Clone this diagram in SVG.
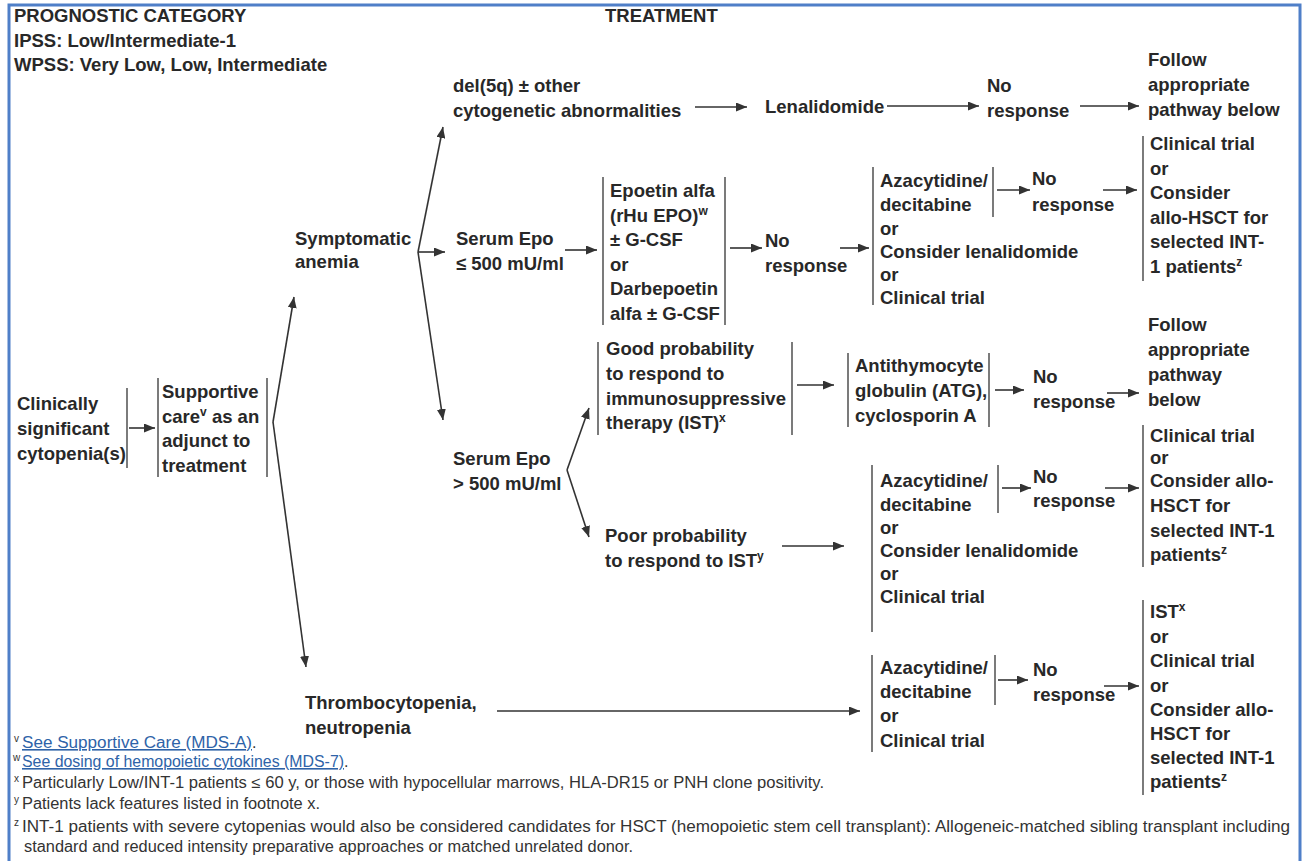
<svg xmlns="http://www.w3.org/2000/svg" width="1308" height="861" viewBox="0 0 1308 861">
<style>
.t{font-family:"Liberation Sans",Arial,sans-serif;font-weight:bold;font-size:18.5px;fill:#282828}
.s{font-size:12px}
.fn{font-family:"Liberation Sans Narrow","Liberation Sans",Arial,sans-serif;font-size:16px;fill:#333}
.fs{font-family:"Liberation Sans",Arial,sans-serif;font-size:10px;fill:#333}
.lk{fill:#2e63a8;text-decoration:underline}
.bar{stroke:#444;stroke-width:1.4;fill:none}
.c{stroke:#333;stroke-width:1.6;fill:none;marker-end:url(#ah)}
</style>
<defs>
<marker id="ah" markerUnits="userSpaceOnUse" markerWidth="11" markerHeight="9" refX="11" refY="4.5" orient="auto">
<path d="M0,0 L11,4.5 L0,9 z" fill="#333"/>
</marker>
</defs>
<rect x="0" y="0" width="1308" height="861" fill="#fff"/>
<rect x="9" y="5" width="1291" height="880" fill="none" stroke="#4f7fc8" stroke-width="3"/>

<g id="header">
<text class="t" x="14" y="22">PROGNOSTIC CATEGORY</text>
<text class="t" x="14" y="47">IPSS: Low/Intermediate-1</text>
<text class="t" x="14" y="71">WPSS: Very Low, Low, Intermediate</text>
<text class="t" x="605" y="22">TREATMENT</text>
</g>

<g id="connectors">
<path class="c" d="M129,428 L155,428"/>
<path class="c" d="M273,422 L294,297"/>
<path class="c" d="M273,422 L306,667"/>
<path class="c" d="M418,252 L443,127"/>
<path class="c" d="M418,252 L445,252"/>
<path class="c" d="M418,252 L443,420"/>
<path class="c" d="M695,107 L747,107"/>
<path class="c" d="M887,106 L979,106"/>
<path class="c" d="M1080,106 L1139,106"/>
<path class="c" d="M565,250 L597,250"/>
<path class="c" d="M730,248 L762,248"/>
<path class="c" d="M840,248 L869,248"/>
<path class="c" d="M997,190 L1030,190"/>
<path class="c" d="M1103,190 L1137,190"/>
<path class="c" d="M567,470 L589,408"/>
<path class="c" d="M567,470 L589,537"/>
<path class="c" d="M797,385 L834,385"/>
<path class="c" d="M995,390 L1024,390"/>
<path class="c" d="M1107,393 L1139,393"/>
<path class="c" d="M782,546 L844,546"/>
<path class="c" d="M1002,488 L1031,488"/>
<path class="c" d="M1105,488 L1139,488"/>
<path class="c" d="M497,711 L860,711"/>
<path class="c" d="M998,680 L1028,680"/>
<path class="c" d="M1104,686 L1139,686"/>
</g>

<g id="cytopenia">
<text class="t" x="17" y="410">Clinically</text>
<text class="t" x="17" y="435">significant</text>
<text class="t" x="17" y="460">cytopenia(s)</text>
<path class="bar" d="M127,388 V468"/>
</g>

<g id="supportive">
<path class="bar" d="M158,378 V477 M267,378 V477"/>
<text class="t" x="162" y="398">Supportive</text>
<text class="t" x="162" y="422.5">care<tspan class="s" dy="-7">v</tspan><tspan dy="7"> as an</tspan></text>
<text class="t" x="162" y="447">adjunct to</text>
<text class="t" x="162" y="471.5">treatment</text>
</g>

<g id="symptomatic">
<text class="t" x="295" y="245">Symptomatic</text>
<text class="t" x="295" y="268">anemia</text>
</g>

<g id="del5q">
<text class="t" x="453" y="92">del(5q) ± other</text>
<text class="t" x="453" y="117">cytogenetic abnormalities</text>
</g>

<g id="lenalidomide">
<text class="t" x="765" y="113">Lenalidomide</text>
</g>

<g id="noresp1">
<text class="t" x="987" y="92">No</text>
<text class="t" x="987" y="117">response</text>
</g>

<g id="follow1">
<text class="t" x="1148" y="66">Follow</text>
<text class="t" x="1148" y="91">appropriate</text>
<text class="t" x="1148" y="116">pathway below</text>
</g>

<g id="epo-low">
<text class="t" x="456" y="245">Serum Epo</text>
<text class="t" x="456" y="270">≤ 500 mU/ml</text>
</g>

<g id="epoetin">
<path class="bar" d="M603,177 V325 M725,177 V325"/>
<text class="t" x="610" y="197">Epoetin alfa</text>
<text class="t" x="610" y="221.5">(rHu EPO)<tspan class="s" dy="-7">w</tspan></text>
<text class="t" x="610" y="246">± G-CSF</text>
<text class="t" x="610" y="270.5">or</text>
<text class="t" x="610" y="295">Darbepoetin</text>
<text class="t" x="610" y="319.5">alfa ± G-CSF</text>
</g>

<g id="noresp2">
<text class="t" x="765" y="247">No</text>
<text class="t" x="765" y="272">response</text>
</g>

<g id="aza1">
<path class="bar" d="M873,167 V305 M993,167 V217"/>
<text class="t" x="880" y="187">Azacytidine/</text>
<text class="t" x="880" y="211">decitabine</text>
<text class="t" x="880" y="235">or</text>
<text class="t" x="880" y="258">Consider lenalidomide</text>
<text class="t" x="880" y="281">or</text>
<text class="t" x="880" y="304">Clinical trial</text>
</g>

<g id="noresp3">
<text class="t" x="1032" y="185">No</text>
<text class="t" x="1032" y="211">response</text>
</g>

<g id="ct1">
<path class="bar" d="M1143,136 V281"/>
<text class="t" x="1150" y="150">Clinical trial</text>
<text class="t" x="1150" y="174.5">or</text>
<text class="t" x="1150" y="199">Consider</text>
<text class="t" x="1150" y="223.5">allo-HSCT for</text>
<text class="t" x="1150" y="248">selected INT-</text>
<text class="t" x="1150" y="272.5">1 patients<tspan class="s" dy="-7">z</tspan></text>
</g>

<g id="epo-high">
<text class="t" x="453" y="465">Serum Epo</text>
<text class="t" x="453" y="490">&gt; 500 mU/ml</text>
</g>

<g id="good">
<path class="bar" d="M598,342 V435 M792,342 V435"/>
<text class="t" x="606" y="355">Good probability</text>
<text class="t" x="606" y="380">to respond to</text>
<text class="t" x="606" y="404.5">immunosuppressive</text>
<text class="t" x="606" y="429">therapy (IST)<tspan class="s" dy="-7">x</tspan></text>
</g>

<g id="atg">
<path class="bar" d="M848,353 V427 M989,353 V427"/>
<text class="t" x="855" y="372">Antithymocyte</text>
<text class="t" x="855" y="397">globulin (ATG),</text>
<text class="t" x="855" y="422">cyclosporin A</text>
</g>

<g id="noresp4">
<text class="t" x="1033" y="383">No</text>
<text class="t" x="1033" y="408">response</text>
</g>

<g id="follow2">
<text class="t" x="1148" y="331">Follow</text>
<text class="t" x="1148" y="356">appropriate</text>
<text class="t" x="1148" y="381">pathway</text>
<text class="t" x="1148" y="406">below</text>
</g>

<g id="poor">
<text class="t" x="605" y="542">Poor probability</text>
<text class="t" x="605" y="567">to respond to IST<tspan class="s" dy="-7">y</tspan></text>
</g>

<g id="aza2">
<path class="bar" d="M872,465 V632 M998,465 V513"/>
<text class="t" x="880" y="487">Azacytidine/</text>
<text class="t" x="880" y="510.5">decitabine</text>
<text class="t" x="880" y="534">or</text>
<text class="t" x="880" y="557">Consider lenalidomide</text>
<text class="t" x="880" y="580">or</text>
<text class="t" x="880" y="603">Clinical trial</text>
</g>

<g id="noresp5">
<text class="t" x="1033" y="483">No</text>
<text class="t" x="1033" y="507">response</text>
</g>

<g id="ct2">
<path class="bar" d="M1143,425 V567"/>
<text class="t" x="1150" y="442">Clinical trial</text>
<text class="t" x="1150" y="464">or</text>
<text class="t" x="1150" y="487">Consider allo-</text>
<text class="t" x="1150" y="512">HSCT for</text>
<text class="t" x="1150" y="537">selected INT-1</text>
<text class="t" x="1150" y="561">patients<tspan class="s" dy="-7">z</tspan></text>
</g>

<g id="thrombo">
<text class="t" x="305" y="709">Thrombocytopenia,</text>
<text class="t" x="305" y="734">neutropenia</text>
</g>

<g id="aza3">
<path class="bar" d="M872,655 V752 M995,655 V705"/>
<text class="t" x="880" y="674">Azacytidine/</text>
<text class="t" x="880" y="698">decitabine</text>
<text class="t" x="880" y="722">or</text>
<text class="t" x="880" y="747">Clinical trial</text>
</g>

<g id="noresp6">
<text class="t" x="1033" y="676">No</text>
<text class="t" x="1033" y="701">response</text>
</g>

<g id="ist">
<path class="bar" d="M1143,600 V795"/>
<text class="t" x="1150" y="618">IST<tspan class="s" dy="-7">x</tspan></text>
<text class="t" x="1150" y="643">or</text>
<text class="t" x="1150" y="667">Clinical trial</text>
<text class="t" x="1150" y="692">or</text>
<text class="t" x="1150" y="716">Consider allo-</text>
<text class="t" x="1150" y="740">HSCT for</text>
<text class="t" x="1150" y="764">selected INT-1</text>
<text class="t" x="1150" y="788">patients<tspan class="s" dy="-7">z</tspan></text>
</g>

<g id="footnotes">
<text class="fs" x="14" y="742">v</text>
<text class="fn lk" x="22" y="748" textLength="230" lengthAdjust="spacingAndGlyphs">See Supportive Care (MDS-A)</text>
<text class="fn" x="252" y="748">.</text>
<text class="fs" x="13" y="761">w</text>
<text class="fn lk" x="22" y="767" textLength="322" lengthAdjust="spacingAndGlyphs">See dosing of hemopoietic cytokines (MDS-7)</text>
<text class="fn" x="344" y="767">.</text>
<text class="fs" x="14" y="782">x</text>
<text class="fn" x="22" y="788" textLength="802" lengthAdjust="spacingAndGlyphs">Particularly Low/INT-1 patients ≤ 60 y, or those with hypocellular marrows, HLA-DR15 or PNH clone positivity.</text>
<text class="fs" x="14" y="803">y</text>
<text class="fn" x="22" y="809" textLength="298" lengthAdjust="spacingAndGlyphs">Patients lack features listed in footnote x.</text>
<text class="fs" x="14" y="826">z</text>
<text class="fn" x="22" y="832" textLength="1268" lengthAdjust="spacingAndGlyphs">INT-1 patients with severe cytopenias would also be considered candidates for HSCT (hemopoietic stem cell transplant): Allogeneic-matched sibling transplant including</text>
<text class="fn" x="24" y="852" textLength="609" lengthAdjust="spacingAndGlyphs">standard and reduced intensity preparative approaches or matched unrelated donor.</text>
</g>
</svg>
